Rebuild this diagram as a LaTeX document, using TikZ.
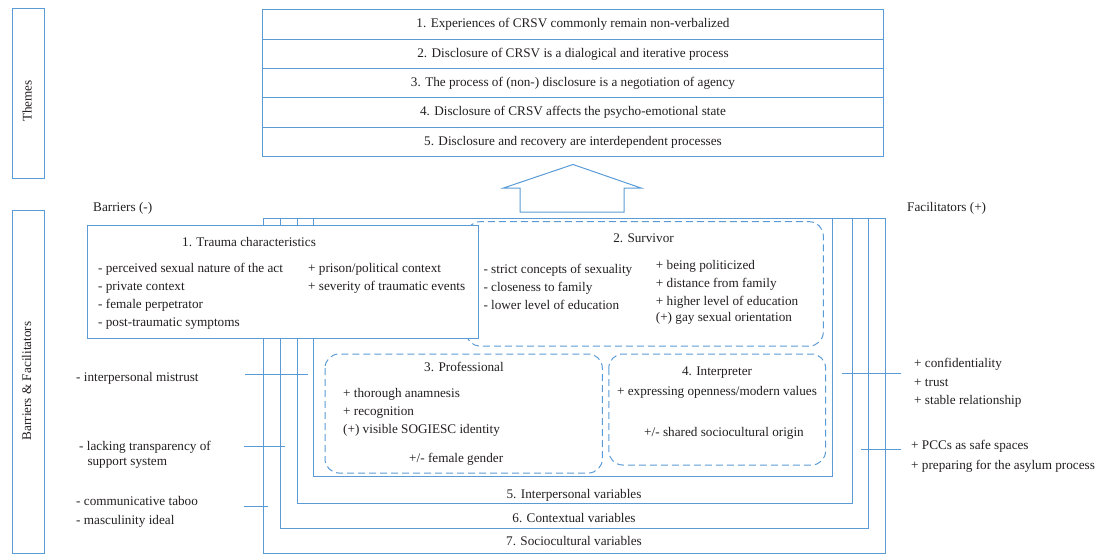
\documentclass[tikz,border=0pt]{standalone}
\usepackage{fontspec}
\setmainfont{Liberation Serif}
\definecolor{fblue}{HTML}{5B9BD5}
\definecolor{ftext}{HTML}{231F20}
\begin{document}
\begin{tikzpicture}[x=1pt,y=-1pt,
  font=\fontsize{13.2}{15}\selectfont,
  every node/.style={text=ftext},
  frame/.style={draw=fblue, line width=1pt, inner sep=0pt},
  dbox/.style={draw=fblue, line width=1pt, dash pattern=on 7pt off 4pt, rounded corners=14pt},
  lbl/.style={inner sep=0pt, text height=9.5pt, text depth=2.5pt, anchor=west},
  clbl/.style={inner sep=0pt, text height=9.5pt, text depth=2.5pt},
  link/.style={draw=fblue, line width=1pt}]
\useasboundingbox (0,0) rectangle (1096,554);

% side boxes
\node[frame, anchor=north west, minimum width=31.5pt, minimum height=170pt] (themes) at (12,8.3) {};
\node[clbl, rotate=90] (themestxt) at (28,101) {Themes};
\node[frame, anchor=north west, minimum width=31.5pt, minimum height=343pt] (bf) at (12,210) {};
\node[clbl, rotate=90] (bftxt) at (27.5,381) {Barriers \& Facilitators};

% theme rows
\node[frame, anchor=north west, minimum width=621pt, minimum height=29.3pt] (t1) at (262,9.3) {};
\node[frame, anchor=north west, minimum width=621pt, minimum height=29.3pt] (t2) at (262,38.6) {};
\node[frame, anchor=north west, minimum width=621pt, minimum height=29.3pt] (t3) at (262,67.9) {};
\node[frame, anchor=north west, minimum width=621pt, minimum height=29.3pt] (t4) at (262,97.2) {};
\node[frame, anchor=north west, minimum width=621pt, minimum height=29.3pt] (t5) at (262,126.5) {};
\node[clbl] (t1txt) at (t1.center) {1. Experiences of CRSV commonly remain non-verbalized};
\node[clbl] (t2txt) at (t2.center) {2. Disclosure of CRSV is a dialogical and iterative process};
\node[clbl] (t3txt) at (t3.center) {3. The process of (non-) disclosure is a negotiation of agency};
\node[clbl] (t4txt) at (t4.center) {4. Disclosure of CRSV affects the psycho-emotional state};
\node[clbl] (t5txt) at (t5.center) {5. Disclosure and recovery are interdependent processes};

% block arrow
\draw[draw=fblue, line width=1pt] (520,212) -- (520,188) -- (503.5,188) -- (573,164.5)
  -- (641,188) -- (624,188) -- (624,212) -- cycle;

% headings
\node[lbl] (barriers) at (93,207.5) {Barriers (-)};
\node[lbl] (facil) at (907,208) {Facilitators (+)};

% nested variable frames
\node[frame, anchor=north west, minimum width=622pt, minimum height=335.5pt] (r7) at (263,217.5) {};
\node[frame, anchor=north west, minimum width=588pt, minimum height=310.5pt] (r6) at (280,217.5) {};
\node[frame, anchor=north west, minimum width=555pt, minimum height=285.5pt] (r5) at (297,217.5) {};
\node[frame, anchor=north west, minimum width=519pt, minimum height=258.5pt] (r4) at (313,217.5) {};
\node[clbl] (r5txt) at (574,494.5) {5. Interpersonal variables};
\node[clbl] (r6txt) at (574,519) {6. Contextual variables};
\node[clbl] (r7txt) at (574,542) {7. Sociocultural variables};

% survivor
\draw[dbox] (466,221.7) rectangle (823.3,346);
\coordinate (survc) at (644.5,284);
\node[clbl] (survtitle) at (643.5,239.3) {2. Survivor};
\node[lbl] (s1) at (483.3,270) {- strict concepts of sexuality};
\node[lbl] (s2) at (483.3,287.8) {- closeness to family};
\node[lbl] (s3) at (483.3,305.7) {- lower level of education};
\node[lbl] (s4) at (655.7,266) {+ being politicized};
\node[lbl] (s5) at (655.7,284) {+ distance from family};
\node[lbl] (s6) at (655.7,301.7) {+ higher level of education};
\node[lbl] (s7) at (655.7,317.7) {(+) gay sexual orientation};

% trauma (on top)
\node[frame, fill=white, anchor=north west, minimum width=391pt, minimum height=113.3pt] (trauma) at (87.3,225) {};
\node[lbl] (trtitle) at (182,243) {1. Trauma characteristics};
\node[lbl] (tr1) at (98,269) {- perceived sexual nature of the act};
\node[lbl] (tr2) at (98,287) {- private context};
\node[lbl] (tr3) at (98,305) {- female perpetrator};
\node[lbl] (tr4) at (98,323) {- post-traumatic symptoms};
\node[lbl] (tr5) at (308,269) {+ prison/political context};
\node[lbl] (tr6) at (308,287) {+ severity of traumatic events};

% professional
\draw[dbox] (325,354) rectangle (602.3,473);
\node[clbl] (proftitle) at (464,368) {3. Professional};
\node[lbl] (p1) at (343,394) {+ thorough anamnesis};
\node[lbl] (p2) at (343,412) {+ recognition};
\node[lbl] (p3) at (343,430) {(+) visible SOGIESC identity};
\node[lbl] (p4) at (409,459) {+/- female gender};

% interpreter
\draw[dbox] (608.8,354) rectangle (825.6,465);
\node[clbl] (inttitle) at (717,372.3) {4. Interpreter};
\node[clbl] (i1) at (717,392.3) {+ expressing openness/modern values};
\node[lbl] (i2) at (644,433) {+/- shared sociocultural origin};

% left barriers
\node[lbl] (b1) at (76,378) {- interpersonal mistrust};
\node[lbl] (b2) at (79,447) {- lacking transparency of};
\node[lbl] (b2b) at (87.3,462) {support system};
\node[lbl] (b3) at (76,502) {- communicative taboo};
\node[lbl] (b4) at (76,521) {- masculinity ideal};
\coordinate (b1s) at (245,374);  \coordinate (b1e) at (308,374);
\coordinate (b2s) at (244,446);  \coordinate (b2e) at (285,446);
\coordinate (b3s) at (244,506);  \coordinate (b3e) at (268,506);
\draw[link] (b1s) -- (b1e);
\draw[link] (b2s) -- (b2e);
\draw[link] (b3s) -- (b3e);

% right facilitators
\node[lbl] (f1) at (914,364) {+ confidentiality};
\node[lbl] (f2) at (914,383) {+ trust};
\node[lbl] (f3) at (914,401) {+ stable relationship};
\node[lbl] (f4) at (911,446) {+ PCCs as safe spaces};
\node[lbl] (f5) at (911,466) {+ preparing for the asylum process};
\coordinate (f1s) at (901,373.3); \coordinate (f1e) at (842,373.3);
\coordinate (f2s) at (901,449);   \coordinate (f2e) at (861,449);
\draw[link] (f1s) -- (f1e);
\draw[link] (f2s) -- (f2e);
\end{tikzpicture}
\end{document}
